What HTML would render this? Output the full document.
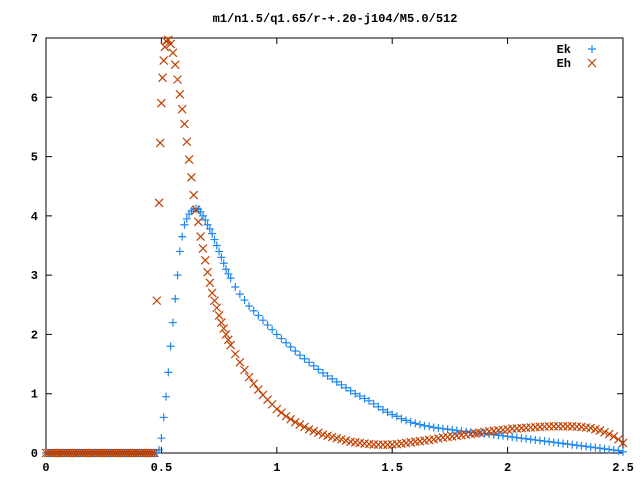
<!DOCTYPE html>
<html><head><meta charset="utf-8"><style>
body{margin:0;background:#fff;}
svg text{font-family:"Liberation Mono",monospace;font-weight:bold;font-size:12px;fill:#000;}
</style></head><body>
<svg width="640" height="480" xmlns="http://www.w3.org/2000/svg">
<g id="axes"></g><g id="plot"></g>
</svg>
<script>
const xTicks=[0,0.5,1,1.5,2,2.5];
const xTickLabels=["0","0.5","1","1.5","2","2.5"];
const yTicks=[0,1,2,3,4,5,6,7];
const yTickLabels=["0","1","2","3","4","5","6","7"];
const zeroX=[0,0.01,0.02,0.03,0.04,0.05,0.06,0.07,0.08,0.09,0.1,0.11,0.12,0.13,0.14,0.15,0.16,0.17,0.18,0.19,0.2,0.21,0.22,0.23,0.24,0.25,0.26,0.27,0.28,0.29,0.3,0.31,0.32,0.33,0.34,0.35,0.36,0.37,0.38,0.39,0.4,0.41,0.42,0.43,0.44,0.45,0.46,0.47];
const zeroY=[0,0,0,0,0,0,0,0,0,0,0,0,0,0,0,0,0,0,0,0,0,0,0,0,0,0,0,0,0,0,0,0,0,0,0,0,0,0,0,0,0,0,0,0,0,0,0,0];
const ekX=[0.48,0.49,0.5,0.51,0.52,0.53,0.54,0.55,0.56,0.57,0.58,0.59,0.6,0.61,0.62,0.63,0.64,0.65,0.66,0.67,0.68,0.69,0.7,0.71,0.72,0.73,0.74,0.75,0.76,0.77,0.78,0.79,0.8,0.82,0.84,0.86,0.88,0.9,0.92,0.94,0.96,0.98,1,1.02,1.04,1.06,1.08,1.1,1.12,1.14,1.16,1.18,1.2,1.22,1.24,1.26,1.28,1.3,1.32,1.34,1.36,1.38,1.4,1.42,1.44,1.46,1.48,1.5,1.52,1.54,1.56,1.58,1.6,1.62,1.64,1.66,1.68,1.7,1.72,1.74,1.76,1.78,1.8,1.82,1.84,1.86,1.88,1.9,1.92,1.94,1.96,1.98,2,2.02,2.04,2.06,2.08,2.1,2.12,2.14,2.16,2.18,2.2,2.22,2.24,2.26,2.28,2.3,2.32,2.34,2.36,2.38,2.4,2.42,2.44,2.46,2.48,2.5];
const ekY=[0,0.05,0.25,0.6,0.95,1.36,1.8,2.2,2.6,3.0,3.4,3.65,3.85,3.95,4.03,4.08,4.11,4.12,4.11,4.07,4.0,3.93,3.85,3.78,3.7,3.6,3.5,3.4,3.3,3.2,3.1,3.02,2.95,2.8,2.68,2.58,2.48,2.4,2.32,2.24,2.16,2.08,2.0,1.93,1.86,1.79,1.72,1.65,1.59,1.53,1.47,1.41,1.35,1.3,1.25,1.2,1.15,1.1,1.05,1.0,0.96,0.92,0.88,0.83,0.78,0.73,0.69,0.65,0.62,0.58,0.55,0.52,0.5,0.48,0.46,0.45,0.43,0.42,0.41,0.4,0.39,0.38,0.37,0.36,0.35,0.34,0.335,0.33,0.32,0.31,0.3,0.29,0.28,0.27,0.26,0.25,0.24,0.23,0.22,0.21,0.2,0.19,0.18,0.17,0.16,0.15,0.14,0.13,0.12,0.11,0.1,0.09,0.08,0.07,0.06,0.05,0.04,0.02];
const ehX=[0.48,0.49,0.495,0.5,0.505,0.51,0.515,0.52,0.53,0.54,0.55,0.56,0.57,0.58,0.59,0.6,0.61,0.62,0.63,0.64,0.65,0.66,0.67,0.68,0.69,0.7,0.71,0.72,0.73,0.74,0.75,0.76,0.77,0.78,0.79,0.8,0.82,0.84,0.86,0.88,0.9,0.92,0.94,0.96,0.98,1,1.02,1.04,1.06,1.08,1.1,1.12,1.14,1.16,1.18,1.2,1.22,1.24,1.26,1.28,1.3,1.32,1.34,1.36,1.38,1.4,1.42,1.44,1.46,1.48,1.5,1.52,1.54,1.56,1.58,1.6,1.62,1.64,1.66,1.68,1.7,1.72,1.74,1.76,1.78,1.8,1.82,1.84,1.86,1.88,1.9,1.92,1.94,1.96,1.98,2,2.02,2.04,2.06,2.08,2.1,2.12,2.14,2.16,2.18,2.2,2.22,2.24,2.26,2.28,2.3,2.32,2.34,2.36,2.38,2.4,2.42,2.44,2.46,2.48,2.5];
const ehY=[2.57,4.22,5.23,5.9,6.33,6.62,6.85,6.95,6.97,6.9,6.75,6.55,6.3,6.05,5.8,5.55,5.25,4.95,4.65,4.35,4.1,3.9,3.65,3.45,3.25,3.05,2.87,2.7,2.57,2.45,2.32,2.2,2.1,2.0,1.91,1.82,1.67,1.53,1.4,1.28,1.17,1.07,0.98,0.9,0.82,0.74,0.68,0.62,0.57,0.52,0.48,0.44,0.4,0.37,0.34,0.31,0.29,0.27,0.25,0.23,0.21,0.19,0.18,0.17,0.16,0.15,0.145,0.14,0.14,0.14,0.145,0.15,0.16,0.17,0.18,0.19,0.2,0.21,0.22,0.23,0.245,0.26,0.27,0.28,0.29,0.3,0.31,0.32,0.33,0.34,0.355,0.365,0.375,0.385,0.39,0.4,0.41,0.415,0.42,0.425,0.43,0.435,0.44,0.445,0.45,0.45,0.45,0.45,0.45,0.45,0.445,0.44,0.43,0.42,0.4,0.38,0.35,0.32,0.28,0.23,0.17,0.1];

const L=46,R=623,T=38,B=453;
const sx=v=>L+(v-0)/2.5*(R-L);
const sy=v=>B-(v-0)/7*(B-T);
const NS="http://www.w3.org/2000/svg";
function mk(tag,attrs,parent){const e=document.createElementNS(NS,tag);for(const k in attrs)e.setAttribute(k,attrs[k]);parent.appendChild(e);return e;}
const axes=document.getElementById('axes'),plot=document.getElementById('plot');

let frame=mk('rect',{x:L,y:T,width:R-L,height:B-T,fill:'none',stroke:'#000','stroke-width':1},axes);


xTicks.forEach((v,i)=>{
  const x=sx(v);
  let t=mk('path',{d:`M${x},${B}v-6M${x},${T}v6`,stroke:'#000'},axes);
  
  
  let lb=mk('text',{x:x,y:B+18,'text-anchor':'middle'},axes);lb.textContent=xTickLabels[i];
  
  
});
yTicks.forEach((v,i)=>{
  const y=sy(v);
  let t=mk('path',{d:`M${L},${y}h6M${R},${y}h-6`,stroke:'#000'},axes);
  
  
  let lb=mk('text',{x:L-8,y:y+4,'text-anchor':'end'},axes);lb.textContent=yTickLabels[i];
  
  
});
let title=mk('text',{x:335,y:22,'text-anchor':'middle','font-size':'11'},axes);
title.textContent='m1/n1.5/q1.65/r-+.20-j104/M5.0/512';



function plus(x,y,c,p){return mk('path',{d:`M${x-4},${y}h8M${x},${y-4}v8`,stroke:c,'stroke-width':1.2,fill:'none'},p);}
function cross(x,y,c,p){return mk('path',{d:`M${x-4},${y-4}l8,8M${x-4},${y+4}l8,-8`,stroke:c,'stroke-width':1.2,fill:'none'},p);}
const EK='#1e88f0',EH='#c04000';
zeroX.forEach((v,i)=>{
  const m=plus(sx(v),sy(zeroY[i]),EK,plot);
  
  
});
ekX.forEach((v,i)=>{
  const m=plus(sx(v),sy(ekY[i]),EK,plot);
  
  
});
zeroX.forEach((v,i)=>{
  const m=cross(sx(v),sy(zeroY[i]),EH,plot);
  
  
});
ehX.forEach((v,i)=>{
  const m=cross(sx(v),sy(ehY[i]),EH,plot);
  
  
});
let l1=mk('text',{x:571,y:53,'text-anchor':'end'},axes);l1.textContent='Ek';


let m1=plus(592,49,EK,axes);


let l2=mk('text',{x:571,y:67,'text-anchor':'end'},axes);l2.textContent='Eh';


let m2=cross(592,63,EH,axes);


</script>
</body></html>
